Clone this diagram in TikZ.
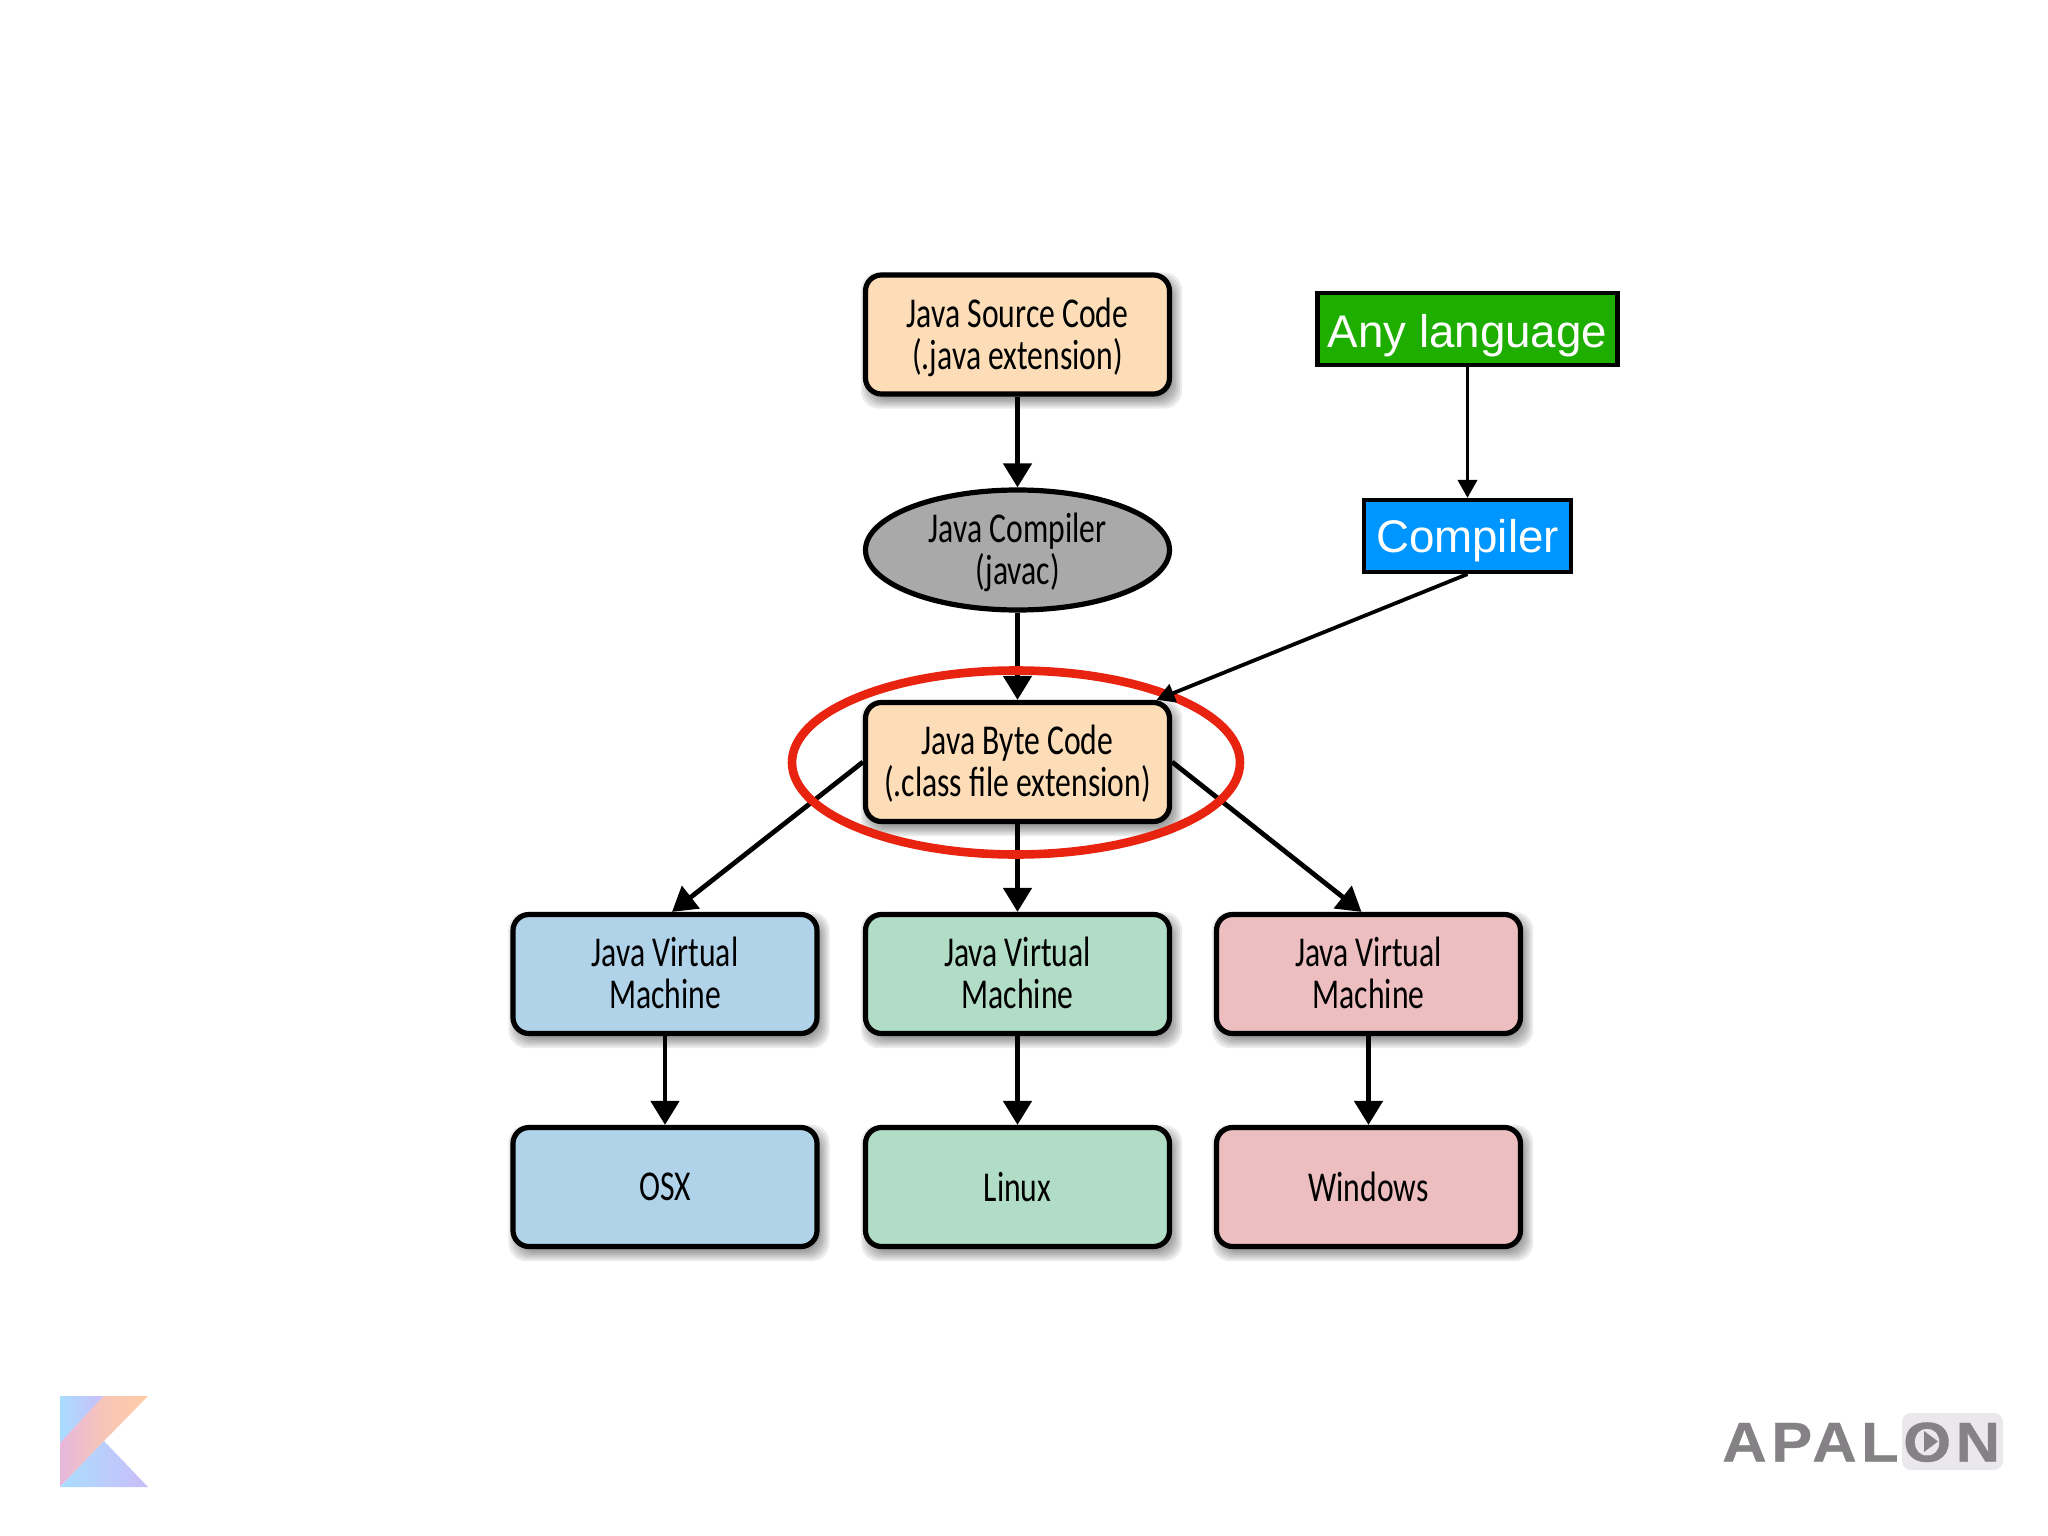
\documentclass[tikz,border=0pt]{standalone}
\usepackage{fontspec}
\usetikzlibrary{arrows.meta,calc,shapes.geometric,backgrounds}
\setmainfont{Liberation Sans}
\newfontfamily\condfont[FakeStretch=0.745]{Carlito}
\newfontfamily\helvfont{Liberation Sans}
\newfontfamily\logofont[LetterSpace=8,FakeStretch=1.1,FakeBold=0.6]{Liberation Sans Bold}
\newcommand{\nudged}[2]{\raisebox{#1}[\height][\depth]{#2}}
\definecolor{peach}{HTML}{FCDDB8}
\definecolor{greyfill}{HTML}{A9A9A9}
\definecolor{skyfill}{HTML}{B1D3EA}
\definecolor{mintfill}{HTML}{B1DCC5}
\definecolor{rosefill}{HTML}{EDBEC0}
\definecolor{langgreen}{HTML}{1EAE00}
\definecolor{compblue}{HTML}{0096FF}
\definecolor{ringred}{HTML}{E8230F}
\definecolor{logogrey}{HTML}{848285}
\definecolor{logobg}{HTML}{EAE8EC}
\definecolor{kblue}{HTML}{A9DDFF}
\definecolor{klilac}{HTML}{CBBDF8}
\definecolor{kpink}{HTML}{E6B6DC}
\definecolor{kpeach}{HTML}{FFCCA6}
\tikzset{
  flowbox/.style={draw=black,line width=5.2pt,rounded corners=16pt,minimum width=304pt,minimum height=119pt,
    align=center,inner sep=0pt,font=\condfont\fontsize{42.5}{42}\selectfont,text=black},
  flowoval/.style={draw=black,line width=5.2pt,ellipse,minimum width=304pt,minimum height=120pt,fill=greyfill,
    align=center,inner sep=0pt,font=\condfont\fontsize{42.5}{42}\selectfont,text=black},
  tagbox/.style={draw=black,line width=4.2pt,minimum height=72pt,inner sep=0pt,text=white,
    font=\helvfont\fontsize{45.7}{50}\selectfont,text depth=0pt},
  bigarrow/.style={draw=black,line width=4.8pt,-{Triangle[length=24pt,width=28pt]}},
  thinarrow/.style={draw=black,line width=3.8pt,-{Triangle[length=18pt,width=19pt]}},
  softshade/.style={fill=black,opacity=0.08,rounded corners=18pt},
}
\begin{document}
\begin{tikzpicture}[x=1pt,y=-1pt]
\useasboundingbox (0,0) rectangle (2048,1536);
% nodes
\node[flowbox,fill=peach] (src) at (1017.5,334.5) {\nudged{-2.5pt}{Java Source Code}\\\nudged{-2.5pt}{(.java extension)}};
\node[flowoval] (javac) at (1017.5,550) {\nudged{-2.5pt}{Java Compiler}\\\nudged{-2.5pt}{(javac)}};
\node[flowbox,fill=peach] (byte) at (1017.5,762) {\nudged{-2pt}{Java Byte Code}\\\nudged{-2pt}{(.class file extension)}};
\node[flowbox,fill=skyfill] (vma) at (665,974) {\nudged{1.5pt}{Java Virtual}\\\nudged{1.5pt}{Machine}};
\node[flowbox,fill=mintfill] (vmb) at (1017.5,974) {\nudged{1.5pt}{Java Virtual}\\\nudged{1.5pt}{Machine}};
\node[flowbox,fill=rosefill] (vmc) at (1368.5,974) {\nudged{1.5pt}{Java Virtual}\\\nudged{1.5pt}{Machine}};
\node[flowbox,fill=skyfill] (osx) at (665,1187) {OSX};
\node[flowbox,fill=mintfill] (linux) at (1017.5,1187) {Linux};
\node[flowbox,fill=rosefill] (win) at (1368.5,1187) {Windows};
\node[tagbox,fill=langgreen,minimum width=300pt,text height=36pt] (lang) at (1467.5,329) {Any language};
\node[tagbox,fill=compblue,minimum width=207pt,text height=33pt] (comp) at (1467.5,536) {Compiler};
% soft shadows
\begin{scope}[on background layer]
\foreach \n in {src,byte,vma,vmb,vmc,osx,linux,win}{
  \foreach \e in {-6,-4,-2,0,2,4,6}{
    \fill[softshade] ($(\n.north west)+(4-\e,6-\e)$) rectangle ($(\n.south east)+(4+\e,6+\e)$);
  }
}
\end{scope}
% connectors under the ring
\draw[bigarrow] (src) -- (javac);
\draw[bigarrow] (javac) -- (byte);
\draw[bigarrow] (byte) -- (vmb);
\draw[bigarrow] (byte.west) -- ([xshift=7pt]vma.north);
\draw[bigarrow] (byte.east) -- ([xshift=-7pt]vmc.north);
\draw[bigarrow] (vma) -- (osx);
\draw[bigarrow] (vmb) -- (linux);
\draw[bigarrow] (vmc) -- (win);
\draw[thinarrow] (lang) -- (comp);
% ring
\draw[ringred,line width=8.6pt] (1016,762.5) ellipse [x radius=224,y radius=92];
\draw[thinarrow] (comp.south) -- ([xshift=139pt]byte.north);
% Kotlin mark
\shade[left color=kblue,right color=klilac] (60,1396) -- (104,1396) -- (60,1443) -- cycle;
\shade[shading angle=45,left color=kpink,right color=kpeach,middle color=kpeach!70!kpink] (104,1396) -- (148,1396) -- (104,1441) -- (60,1487) -- (60,1443) -- cycle;
\shade[left color=kblue,right color=klilac] (60,1487) -- (104,1441) -- (148,1487) -- cycle;
% APALON mark
\fill[logobg,rounded corners=9pt] (1902,1413) rectangle (2003,1470);
\node[anchor=base west,inner sep=0pt,text=logogrey,font=\logofont\fontsize{56}{60}\selectfont] (apalon) at (1722,1461.5) {APALON};
\fill[logogrey] (1924,1431) -- (1938,1441.5) -- (1924,1452) -- cycle;
\end{tikzpicture}
\end{document}
